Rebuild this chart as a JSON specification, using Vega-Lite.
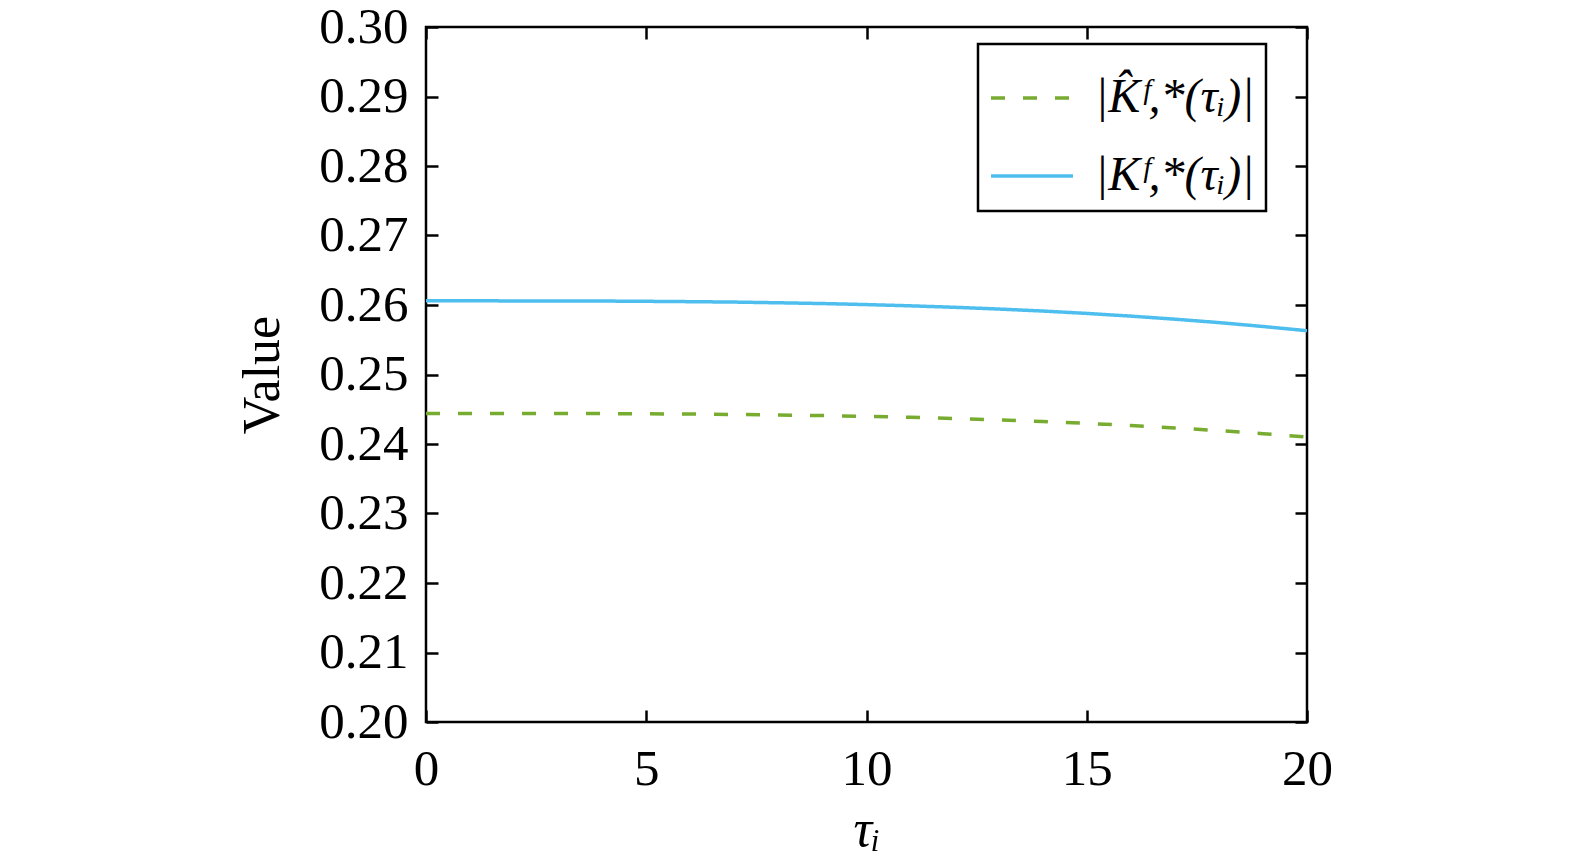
{
  "$schema": "https://vega.github.io/schema/vega-lite/v6.json",
  "width": 881,
  "height": 695,
  "autosize": {"type": "none"},
  "padding": {"left": 426, "top": 27, "right": 268, "bottom": 145},
  "background": "white",
  "config": {
    "font": "Liberation Serif",
    "view": {"stroke": "black", "strokeWidth": 2.5},
    "legend": {"strokeWidth": 2.5},
    "axis": {
      "grid": false,
      "domain": false,
      "ticks": true,
      "tickSize": -12,
      "tickWidth": 2.5,
      "tickColor": "black",
      "labelFlush": false,
      "labelFont": "Liberation Serif",
      "labelFontSize": 51,
      "labelColor": "black",
      "titleFont": "Liberation Serif",
      "titleFontSize": 52,
      "titleFontWeight": "normal",
      "titleColor": "black"
    }
  },
  "data": {
    "values": [
      {"tau": 0, "series": "hat", "value": 0.24440},
      {"tau": 1, "series": "hat", "value": 0.24440},
      {"tau": 2, "series": "hat", "value": 0.24440},
      {"tau": 3, "series": "hat", "value": 0.24439},
      {"tau": 4, "series": "hat", "value": 0.24437},
      {"tau": 5, "series": "hat", "value": 0.24435},
      {"tau": 6, "series": "hat", "value": 0.24431},
      {"tau": 7, "series": "hat", "value": 0.24425},
      {"tau": 8, "series": "hat", "value": 0.24418},
      {"tau": 9, "series": "hat", "value": 0.24409},
      {"tau": 10, "series": "hat", "value": 0.24398},
      {"tau": 11, "series": "hat", "value": 0.24384},
      {"tau": 12, "series": "hat", "value": 0.24367},
      {"tau": 13, "series": "hat", "value": 0.24347},
      {"tau": 14, "series": "hat", "value": 0.24323},
      {"tau": 15, "series": "hat", "value": 0.24297},
      {"tau": 16, "series": "hat", "value": 0.24266},
      {"tau": 17, "series": "hat", "value": 0.24231},
      {"tau": 18, "series": "hat", "value": 0.24192},
      {"tau": 19, "series": "hat", "value": 0.24149},
      {"tau": 20, "series": "hat", "value": 0.24100},
      {"tau": 0, "series": "plain", "value": 0.26060},
      {"tau": 1, "series": "plain", "value": 0.26060},
      {"tau": 2, "series": "plain", "value": 0.26059},
      {"tau": 3, "series": "plain", "value": 0.26059},
      {"tau": 4, "series": "plain", "value": 0.26057},
      {"tau": 5, "series": "plain", "value": 0.26053},
      {"tau": 6, "series": "plain", "value": 0.26048},
      {"tau": 7, "series": "plain", "value": 0.26042},
      {"tau": 8, "series": "plain", "value": 0.26032},
      {"tau": 9, "series": "plain", "value": 0.26021},
      {"tau": 10, "series": "plain", "value": 0.26006},
      {"tau": 11, "series": "plain", "value": 0.25988},
      {"tau": 12, "series": "plain", "value": 0.25967},
      {"tau": 13, "series": "plain", "value": 0.25942},
      {"tau": 14, "series": "plain", "value": 0.25913},
      {"tau": 15, "series": "plain", "value": 0.25879},
      {"tau": 16, "series": "plain", "value": 0.25840},
      {"tau": 17, "series": "plain", "value": 0.25796},
      {"tau": 18, "series": "plain", "value": 0.25747},
      {"tau": 19, "series": "plain", "value": 0.25691},
      {"tau": 20, "series": "plain", "value": 0.25630}
    ]
  },
  "layer": [
    {
      "mark": {"type": "line", "strokeWidth": 3.5, "clip": true},
      "encoding": {
        "x": {
          "field": "tau",
          "type": "quantitative",
          "scale": {"domain": [0, 20], "nice": false},
          "axis": {"orient": "bottom", "values": [0, 5, 10, 15, 20], "title": "τᵢ", "titleFontStyle": "italic", "labelPadding": 34, "titlePadding": 10}
        },
        "y": {
          "field": "value",
          "type": "quantitative",
          "scale": {"domain": [0.2, 0.3], "nice": false, "zero": false},
          "axis": {"orient": "left", "values": [0.2, 0.21, 0.22, 0.23, 0.24, 0.25, 0.26, 0.27, 0.28, 0.29, 0.3], "format": ".2f", "title": "Value", "labelPadding": 30, "titlePadding": 29}
        },
        "color": {
          "field": "series",
          "type": "nominal",
          "scale": {"domain": ["hat", "plain"], "range": ["#77AC30", "#4DBEEE"]},
          "legend": {
            "orient": "none",
            "legendX": 552,
            "legendY": 17,
            "title": null,
            "labelExpr": "datum.label == 'hat' ? '|K̂ᶠ,*(τᵢ)|' : '|Kᶠ,*(τᵢ)|'",
            "labelFont": "Liberation Serif",
            "labelFontSize": 48,
            "labelFontStyle": "italic",
            "labelColor": "black",
            "labelOffset": 20,
            "symbolType": "stroke",
            "symbolSize": 6724,
            "symbolStrokeWidth": 3.5,
            "strokeColor": "black",
            "fillColor": "white",
            "padding": 11,
            "rowPadding": 11
          }
        },
        "strokeDash": {
          "field": "series",
          "type": "nominal",
          "scale": {"domain": ["hat", "plain"], "range": [[14, 18], [1, 0]]},
          "legend": {
            "orient": "none",
            "legendX": 552,
            "legendY": 17,
            "title": null,
            "labelExpr": "datum.label == 'hat' ? '|K̂ᶠ,*(τᵢ)|' : '|Kᶠ,*(τᵢ)|'",
            "labelFont": "Liberation Serif",
            "labelFontSize": 48,
            "labelFontStyle": "italic",
            "labelColor": "black",
            "labelOffset": 20,
            "symbolType": "stroke",
            "symbolSize": 6724,
            "symbolStrokeWidth": 3.5,
            "strokeColor": "black",
            "fillColor": "white",
            "padding": 11,
            "rowPadding": 11
          }
        }
      }
    },
    {
      "mark": {"type": "line", "opacity": 0},
      "encoding": {
        "x": {
          "field": "tau",
          "type": "quantitative",
          "scale": {"domain": [0, 20], "nice": false},
          "axis": {"orient": "top", "values": [0, 5, 10, 15, 20], "labels": false, "title": null}
        },
        "y": {
          "field": "value",
          "type": "quantitative",
          "scale": {"domain": [0.2, 0.3], "nice": false, "zero": false},
          "axis": {"orient": "right", "values": [0.2, 0.21, 0.22, 0.23, 0.24, 0.25, 0.26, 0.27, 0.28, 0.29, 0.3], "labels": false, "title": null}
        },
        "detail": {"field": "series", "type": "nominal"}
      }
    }
  ],
  "resolve": {"scale": {"x": "independent", "y": "independent"}}
}
